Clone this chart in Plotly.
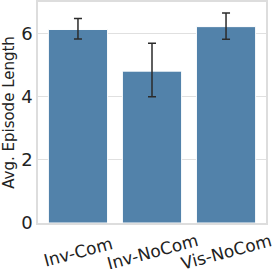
import plotly.graph_objects as go

categories = ["Inv-Com", "Inv-NoCom", "Vis-NoCom"]
means = [6.13, 4.81, 6.22]
err_upper = [6.48, 5.69, 6.65]
err_lower = [5.83, 4.00, 5.82]

plus = [u - m for u, m in zip(err_upper, means)]
minus = [m - l for l, m in zip(err_lower, means)]
xpos = list(range(len(categories)))

fig = go.Figure(go.Bar(
    x=xpos, y=means, width=0.8,
    marker=dict(color="#5282aa", line=dict(color="white", width=1)),
    error_y=dict(type="data", symmetric=False, array=plus, arrayminus=minus,
                 color="#2b2b2b", thickness=1.5, width=4),
))

for xi, lab in zip(xpos, categories):
    fig.add_annotation(x=xi, xref="x", y=-0.132, yref="paper", text=lab,
                       textangle=-15, showarrow=False, xanchor="center",
                       yanchor="middle", font=dict(size=17, color="#222222"))

fig.update_layout(
    width=274, height=269,
    margin=dict(l=38, r=8, t=2, b=46),
    paper_bgcolor="white", plot_bgcolor="white",
    font=dict(family="DejaVu Sans", color="#222222"),
    showlegend=False,
)
fig.update_xaxes(
    tickvals=xpos, showticklabels=False,
    range=[-0.54, 2.54],
    showgrid=False, showline=True, linecolor="#dddddd", linewidth=1.5, mirror=True,
    ticks="", zeroline=False, automargin=False,
)
fig.update_yaxes(
    range=[0, 7.0], tickvals=[0, 2, 4, 6], tickfont=dict(size=18),
    title=dict(text="Avg. Episode Length", font=dict(size=15), standoff=4),
    showgrid=True, gridcolor="#e0e0e0", gridwidth=1.2,
    showline=True, linecolor="#dddddd", linewidth=1.5, mirror=True,
    ticks="", zeroline=False, automargin=False,
)

fig.write_html("out.html", config={"displayModeBar": False},
               post_script="document.body.style.margin='0px';document.body.style.overflow='hidden';")
